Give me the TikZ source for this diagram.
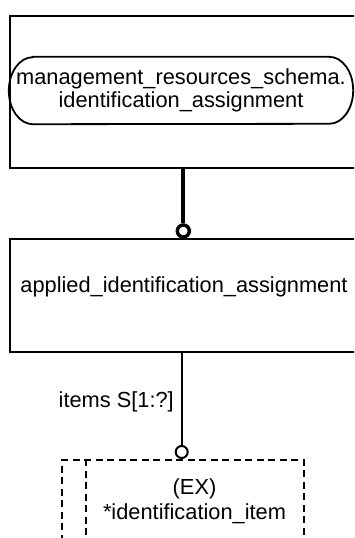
\documentclass[tikz,border=0pt]{standalone}
\usepackage{fontspec}
\setmainfont{Liberation Sans}
\begin{document}
\begin{tikzpicture}[x=1pt,y=1pt,
  boxline/.style={draw=black, line width=1.8pt},
  lbl/.style={font=\fontsize{21.8}{22.7}\selectfont, inner sep=0pt, align=center},
  dashbox/.style={draw=black, line width=2pt, dash pattern=on 7pt off 4.5pt},
  ring/.style={circle, draw=black, fill=white, inner sep=0pt, minimum size=12pt}
]
\clip (0,0) rectangle (354,-538);
\fill[white] (0,0) rectangle (354,-538);
% top box
\node[boxline, rectangle, minimum width=355pt, minimum height=152pt, inner sep=0pt, anchor=north west] (schemabox) at (9,-15) {};
\node[lbl, minimum width=344pt, minimum height=67pt] (pill) at (181,-90.5) {management\_resources\_schema.\\identification\_assignment};
\draw[line width=1.8pt] ([xshift=24pt]pill.north west) -- ([xshift=-24pt]pill.north east)
  arc[start angle=90, end angle=-90, x radius=24pt, y radius=33.5pt]
  -- ([xshift=24pt]pill.south west)
  arc[start angle=270, end angle=90, x radius=24pt, y radius=33.5pt] -- cycle;
% applied box
\node[boxline, rectangle, minimum width=355pt, minimum height=113pt, inner sep=0pt, anchor=north west] (applied) at (9,-238) {};
\node[lbl] (appliedtxt) at (184,-287) {applied\_identification\_assignment};
% thick connector
\node[ring, line width=3.5pt] (c1) at (183.3,-231) {};
\draw[line width=4pt] (c1 |- schemabox.south) -- (c1.north);
% dashed box
\node[dashbox, rectangle, minimum width=242pt, minimum height=120pt, inner sep=0pt, anchor=north west] (item) at (61,-459) {};
\draw[line width=2pt, dash pattern=on 7pt off 4.5pt] ([xshift=25pt]item.north west) -- ([xshift=25pt]item.south west);
\node[lbl, font=\fontsize{21.8}{25}\selectfont] (itemtxt) at (194.5,-501.5) {(EX)\\*identification\_item};
% thin connector
\node[ring, line width=2pt] (c2) at (181.7,-452) {};
\draw[line width=2pt] (c2 |- applied.south) -- (c2.north);
\node[lbl, anchor=base east] (itemslbl) at (174,-407) {items S[1:?]};
\end{tikzpicture}
\end{document}
